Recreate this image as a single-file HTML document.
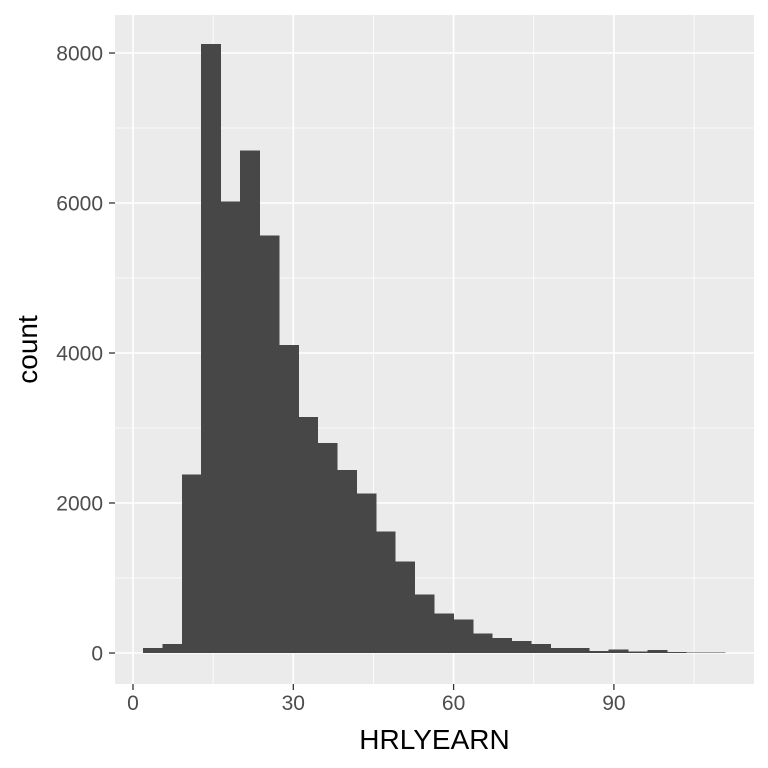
<!DOCTYPE html>
<html><head><meta charset="utf-8"><style>
html,body{margin:0;padding:0;background:#fff;}
svg{display:block;font-family:"Liberation Sans",Arial,sans-serif;}
</style></head><body>
<svg id="chart" width="768" height="768" viewBox="0 0 768 768"></svg>
<script>
const binStart = 1.87;
const binWidth = 3.63;
const counts = [70,120,2380,8120,6020,6700,5570,4110,3150,2800,2440,2130,1620,1220,780,530,450,260,200,160,120,70,70,30,50,20,40,15,10,5];
const xTicks = [0,30,60,90];
const xMinor = [15,45,75,105];
const yTicks = [0,2000,4000,6000,8000];
const yMinor = [1000,3000,5000,7000];

const P = {l:115, r:754, t:15, b:684};
const xs = v => 133 + v*(160.3/30);
const ys = v => 653 - v*0.075;
const svg = document.getElementById('chart');
const NS = 'http://www.w3.org/2000/svg';
function mk(tag, attrs){const e=document.createElementNS(NS,tag);for(const k in attrs)e.setAttribute(k,attrs[k]);svg.appendChild(e);return e;}

const bg = mk('rect',{x:P.l,y:P.t,width:P.r-P.l,height:P.b-P.t,fill:'#EBEBEB'});



xMinor.forEach(v=>{const l=mk('line',{x1:xs(v),x2:xs(v),y1:P.t,y2:P.b,stroke:'#fff','stroke-width':0.8});

});
yMinor.forEach(v=>{const l=mk('line',{x1:P.l,x2:P.r,y1:ys(v),y2:ys(v),stroke:'#fff','stroke-width':0.8});

});
xTicks.forEach(v=>{const l=mk('line',{x1:xs(v),x2:xs(v),y1:P.t,y2:P.b,stroke:'#fff','stroke-width':1.6});

});
yTicks.forEach(v=>{const l=mk('line',{x1:P.l,x2:P.r,y1:ys(v),y2:ys(v),stroke:'#fff','stroke-width':1.6});

});

counts.forEach((c,i)=>{
  const x0=xs(binStart+i*binWidth), x1=xs(binStart+(i+1)*binWidth);
  const r=mk('rect',{x:x0,y:ys(c),width:x1-x0+0.6,height:ys(0)-ys(c),fill:'#474747','shape-rendering':'crispEdges'});
  
  
});

xTicks.forEach(v=>{
  const t=mk('line',{x1:xs(v),x2:xs(v),y1:P.b,y2:P.b+6,stroke:'#333','stroke-width':1.3});
  
  
  const l=mk('text',{x:xs(v),y:P.b+26,'text-anchor':'middle','font-size':21,fill:'#4D4D4D'});
  l.textContent=v;
  
  
});
yTicks.forEach(v=>{
  const t=mk('line',{x1:P.l-6,x2:P.l,y1:ys(v),y2:ys(v),stroke:'#333','stroke-width':1.3});
  
  
  const l=mk('text',{x:P.l-12,y:ys(v)+7.5,'text-anchor':'end','font-size':21,fill:'#4D4D4D'});
  l.textContent=v;
  
  
});
const xt=mk('text',{x:(P.l+P.r)/2,y:749,'text-anchor':'middle','font-size':28,fill:'#000'});
xt.textContent='HRLYEARN';


const yt=mk('text',{x:0,y:0,'text-anchor':'middle','font-size':28,fill:'#000',transform:`translate(37,${(P.t+P.b)/2}) rotate(-90)`});
yt.textContent='count';


</script>
</body></html>
